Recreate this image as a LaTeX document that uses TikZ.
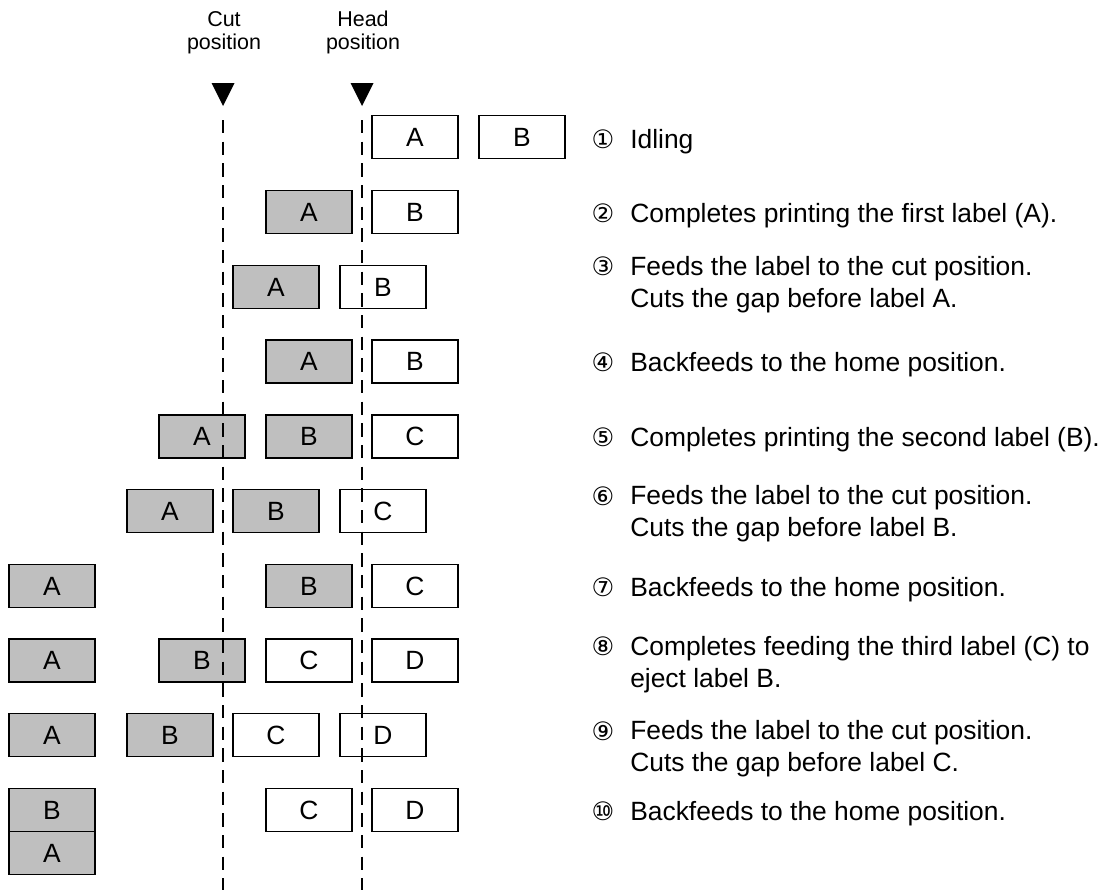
\documentclass[tikz,border=0pt]{standalone}
\usepackage{fontspec}
\setmainfont{Liberation Sans}
\newfontfamily\circfont{DejaVu Sans}
\newcommand{\lblbox}[5][whitebox]{\node[#1] (#2) at (#3,#4) {#5};}
\begin{document}
\begin{tikzpicture}[x=0.75pt,y=-0.75pt,
  base/.style={draw=black,line width=1.3pt,minimum width=64.5pt,minimum height=32.25pt,inner sep=0pt,outer sep=0pt,font=\fontsize{19.8pt}{24pt}\selectfont,text=black},
  whitebox/.style={base,fill=white},
  graybox/.style={base,fill=black!25},
  headnode/.style={align=center,inner sep=0pt,anchor=base,font=\fontsize{16.1pt}{17.6pt}\selectfont},
  marker/.style={fill=black,draw=none},
  cutline/.style={line width=1.5pt,dash pattern=on 10pt off 6.25pt},
  circnode/.style={anchor=center,inner sep=0pt,font=\circfont\fontsize{19pt}{21pt}\selectfont},
  steptextnode/.style={anchor=base west,inner sep=0pt,align=left,font=\fontsize{19.8pt}{23.7pt}\selectfont},
]
\useasboundingbox[fill=white] (0,0) rectangle (1109,890);
\node[headnode] (cuthead) at (224,49.5) {Cut\\position};
\node[headnode] (headhead) at (363,49.5) {Head\\position};
\fill[marker] (211.5,83) -- (234.5,83) -- (223,106) -- cycle;
\fill[marker] (350.5,83) -- (373.5,83) -- (362,106) -- cycle;
% row 1
\lblbox{r1a}{415}{137}{A}
\lblbox{r1b}{522}{137}{B}
% row 2
\lblbox[graybox]{r2a}{309}{212}{A}
\lblbox{r2b}{415}{212}{B}
% row 3
\lblbox[graybox]{r3a}{276}{287}{A}
\lblbox{r3b}{383}{287}{B}
% row 4
\lblbox[graybox]{r4a}{309}{361.5}{A}
\lblbox{r4b}{415}{361.5}{B}
% row 5
\lblbox[graybox]{r5a}{202}{436.5}{A}
\lblbox[graybox]{r5b}{309}{436.5}{B}
\lblbox{r5c}{415}{436.5}{C}
% row 6
\lblbox[graybox]{r6a}{170}{511}{A}
\lblbox[graybox]{r6b}{276}{511}{B}
\lblbox{r6c}{383}{511}{C}
% row 7
\lblbox[graybox]{r7a}{52}{586}{A}
\lblbox[graybox]{r7b}{309}{586}{B}
\lblbox{r7c}{415}{586}{C}
% row 8
\lblbox[graybox]{r8a}{52}{660.5}{A}
\lblbox[graybox]{r8b}{202}{660.5}{B}
\lblbox{r8c}{309}{660.5}{C}
\lblbox{r8d}{415}{660.5}{D}
% row 9
\lblbox[graybox]{r9a}{52}{735}{A}
\lblbox[graybox]{r9b}{170}{735}{B}
\lblbox{r9c}{276}{735}{C}
\lblbox{r9d}{383}{735}{D}
% row 10
\lblbox[graybox]{r10b}{52}{810}{B}
\lblbox[graybox]{r10a}{52}{853}{A}
\lblbox{r10c}{309}{810}{C}
\lblbox{r10d}{415}{810}{D}
% dashed lines
\coordinate (cuttop) at (223,120);
\coordinate (cutbot) at (223,890);
\coordinate (headtop) at (362,120);
\coordinate (headbot) at (362,890);
\draw[cutline] (cuttop) -- (cutbot);
\draw[cutline] (headtop) -- (headbot);
% step texts
\node[circnode] (c1) at (603,139) {①};
\node[circnode] (c2) at (603,213) {②};
\node[circnode] (c3) at (603,266.5) {③};
\node[circnode] (c4) at (603,362) {④};
\node[circnode] (c5) at (603,437.5) {⑤};
\node[circnode] (c6) at (603,496.5) {⑥};
\node[circnode] (c7) at (603,587) {⑦};
\node[circnode] (c8) at (603,646.5) {⑧};
\node[circnode] (c9) at (603,731.5) {⑨};
\node[circnode] (c10) at (603,811) {⑩};
\node[steptextnode] (t1) at (630,148) {Idling};
\node[steptextnode] (t2) at (630,222) {Completes printing the first label (A).};
\node[steptextnode] (t3) at (630,307) {Feeds the label to the cut position.\\Cuts the gap before label A.};
\node[steptextnode] (t4) at (630,371) {Backfeeds to the home position.};
\node[steptextnode] (t5) at (630,446.5) {Completes printing the second label (B).};
\node[steptextnode] (t6) at (630,536.5) {Feeds the label to the cut position.\\Cuts the gap before label B.};
\node[steptextnode] (t7) at (630,596) {Backfeeds to the home position.};
\node[steptextnode] (t8) at (630,687) {Completes feeding the third label (C) to\\eject label B.};
\node[steptextnode] (t9) at (630,771.5) {Feeds the label to the cut position.\\Cuts the gap before label C.};
\node[steptextnode] (t10) at (630,820) {Backfeeds to the home position.};
\end{tikzpicture}
\end{document}
